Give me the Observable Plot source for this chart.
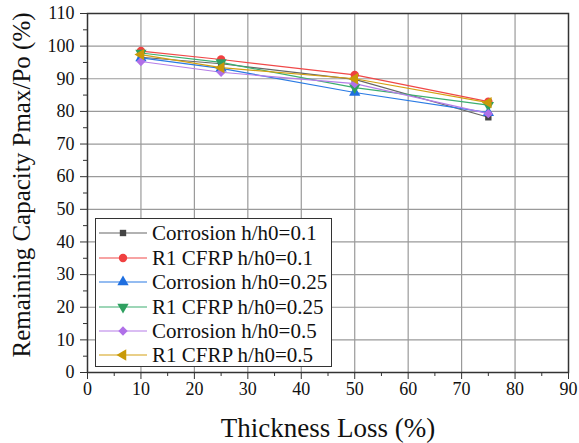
<!DOCTYPE html>
<html>
<head>
<meta charset="utf-8">
<script src="https://cdn.jsdelivr.net/npm/d3@7"></script>
<script src="https://cdn.jsdelivr.net/npm/@observablehq/plot@0.6"></script>
<style>
  body { margin: 0; background: #fff; }
  #wrap { position: relative; width: 579px; height: 443px; font-family: "Liberation Serif", "Times New Roman", Times, serif; }
  #legend { position: absolute; left: 95px; top: 218px; width: 237px; height: 149px; border: 1px solid #333; background: #fff; box-sizing: border-box; }
  .row { position: absolute; left: 0; height: 24px; display: flex; align-items: center; }
  .row span { font-size: 21px; color: #111; margin-left: 3px; white-space: nowrap; }
</style>
</head>
<body>
<div id="wrap"></div>
<script>
const thickness = [10, 25, 50, 75];
const corrosion01 = [96.6, 94.6, 89.8, 78.2];
const cfrp01 = [98.5, 95.9, 91.2, 83.0];
const corrosion025 = [96.4, 93.2, 85.8, 79.6];
const cfrp025 = [97.9, 95.0, 87.3, 81.9];
const corrosion05 = [95.3, 92.0, 88.5, 79.3];
const cfrp05 = [97.4, 93.4, 90.0, 82.7];

const seriesNames = ["Corrosion h/h0=0.1", "R1 CFRP h/h0=0.1", "Corrosion h/h0=0.25", "R1 CFRP h/h0=0.25", "Corrosion h/h0=0.5", "R1 CFRP h/h0=0.5"];
const seriesValues = [corrosion01, cfrp01, corrosion025, cfrp025, corrosion05, cfrp05];
const lineColors = ["#666666", "#f04848", "#2a7be4", "#3cae70", "#b57de8", "#d4a012"];
const markColors = ["#444444", "#f04040", "#1f6fe0", "#2fa060", "#b070e8", "#c99a08"];
const symbols = ["square", "circle", "triangle", "triangle", "diamond2", "triangle"];
const rotations = [0, 0, 0, 180, 0, -90];

const xTicks = d3.range(0, 91, 10);
const xMinor = d3.range(5, 90, 10);
const yTicks = d3.range(0, 111, 10);
const yMinor = d3.range(5, 110, 10);

const data = [];
seriesNames.forEach((name, i) => {
  thickness.forEach((t, j) => data.push({series: name, idx: i, x: t, y: seriesValues[i][j]}));
});

const chart = Plot.plot({
  width: 579,
  height: 443,
  marginLeft: 87,
  marginRight: 11,
  marginTop: 13,
  marginBottom: 71,
  style: {fontFamily: "'Liberation Serif', 'Times New Roman', Times, serif", background: "white"},
  x: {domain: [0, 90]},
  y: {domain: [0, 110]},
  marks: [
    Plot.gridX(d3.range(10, 90, 10), {stroke: "#9a9a9a", strokeOpacity: 1, strokeWidth: 1.2}),
    Plot.gridY(d3.range(10, 110, 10), {stroke: "#9a9a9a", strokeOpacity: 1, strokeWidth: 1.2}),
    Plot.frame({stroke: "#333", strokeWidth: 1.5}),
    Plot.axisX(xTicks, {tickSize: 7, tickPadding: 3, fontSize: 18, label: null, stroke: "#333", fill: "#111"}),
    Plot.axisX(xMinor, {tickSize: 4, tickFormat: () => "", label: null, stroke: "#333"}),
    Plot.axisY(yTicks, {tickSize: 7, tickPadding: 6, fontSize: 18, label: null, stroke: "#333", fill: "#111"}),
    Plot.axisY(yMinor, {tickSize: 4, tickFormat: () => "", label: null, stroke: "#333"}),
    ...seriesNames.map((name, i) => Plot.line(data.filter(d => d.idx === i), {x: "x", y: "y", stroke: lineColors[i], strokeWidth: 1.2})),
    ...seriesNames.map((name, i) => Plot.dot(data.filter(d => d.idx === i), {x: "x", y: "y", fill: markColors[i], stroke: "none", symbol: () => symbols[i], r: i === 0 ? 3.6 : 4.2, rotate: rotations[i]})),
    Plot.text(["Thickness Loss (%)"], {frameAnchor: "bottom", dy: 56, fontSize: 27, fill: "#111", lineAnchor: "middle", textAnchor: "middle"}),
    Plot.text(["Remaining Capacity Pmax/Po (%)"], {frameAnchor: "left", dx: -66, dy: -8, rotate: -90, fontSize: 25, fill: "#111", lineAnchor: "middle", textAnchor: "middle"})
  ]
});
document.getElementById("wrap").appendChild(chart);

// Legend
const legend = document.createElement("div");
legend.id = "legend";
const rowTops = [2, 27, 51, 76, 100, 124];
const symMap = {square: d3.symbolSquare, circle: d3.symbolCircle, triangle: d3.symbolTriangle, diamond2: d3.symbolDiamond2};
seriesNames.forEach((name, i) => {
  const row = document.createElement("div");
  row.className = "row";
  row.style.top = rowTops[i] + "px";
  const svg = d3.create("svg").attr("width", 53).attr("height", 24);
  svg.append("line").attr("x1", 3).attr("x2", 51).attr("y1", 12).attr("y2", 12).attr("stroke", lineColors[i]).attr("stroke-width", 1.2);
  const r = i === 0 ? 3.6 : 4.2;
  svg.append("path")
    .attr("d", d3.symbol(symMap[symbols[i]], Math.PI * r * r)())
    .attr("transform", `translate(27,12) rotate(${rotations[i]})`)
    .attr("fill", markColors[i]);
  row.appendChild(svg.node());
  const span = document.createElement("span");
  span.textContent = name;
  row.appendChild(span);
  legend.appendChild(row);
});
document.getElementById("wrap").appendChild(legend);
</script>
</body>
</html>
